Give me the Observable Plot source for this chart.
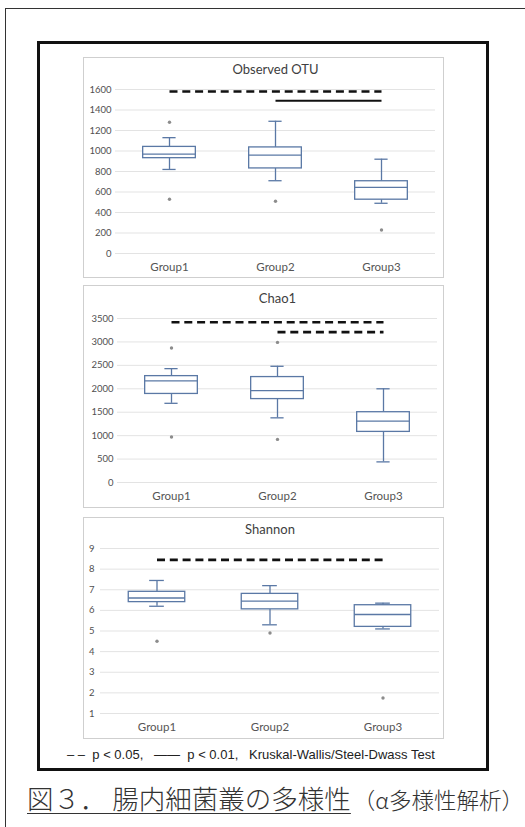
<!DOCTYPE html>
<html>
<head>
<meta charset="utf-8">
<script src="https://cdn.jsdelivr.net/npm/d3@7"></script>
<script src="https://cdn.jsdelivr.net/npm/@observablehq/plot@0.6"></script>
<style>
  html, body { margin: 0; padding: 0; background: #fff; }
  #page { position: relative; width: 525px; height: 827px; overflow: hidden; background: #fff; }
  .abs { position: absolute; }
  #outer { left: 5px; top: 8px; width: 600px; height: 900px; border: 1.5px solid #333; }
  #inner { left: 37px; top: 41px; width: 446px; height: 724px; border: 3px solid #111; }
  .panel { border: 1px solid #cfcfcf; background: #fff; }
  .panel svg { display: block; }
  #legend { left: 67px; top: 747px; font-family: "Liberation Sans", Arial, sans-serif; font-size: 13px; color: #222; white-space: pre; }
  #caption { left: 27px; top: 778px; font-family: "Noto Sans CJK JP", sans-serif; color: #333; white-space: pre; font-weight: 300; }
  #caption .main { font-size: 26.5px; text-decoration: underline; text-decoration-thickness: 1px; text-underline-offset: 4px; }
  #caption .sub { font-size: 22.5px; margin-left: 2px; }
</style>
</head>
<body>
<div id="page">
  <div id="outer" class="abs"></div>
  <div id="inner" class="abs"></div>
  <div id="p1" class="abs panel" style="left:83px; top:57px;"></div>
  <div id="p2" class="abs panel" style="left:83px; top:285px;"></div>
  <div id="p3" class="abs panel" style="left:83px; top:517px;"></div>
  <div id="legend" class="abs">‒ ‒  p &lt; 0.05,   ——  p &lt; 0.01,   Kruskal-Wallis/Steel-Dwass Test</div>
  <div id="caption" class="abs"><span class="main">図３． 腸内細菌叢の多様性</span><span class="sub">（α多様性解析）</span></div>
</div>
<script>
// ---------- data ----------
const groups = ["Group1", "Group2", "Group3"];

// Observed OTU
const otuTicks = [0, 200, 400, 600, 800, 1000, 1200, 1400, 1600];
const otuHigh = [1130, 1290, 920];
const otuQ3 = [1040, 1035, 705];
const otuMedian = [970, 960, 645];
const otuQ1 = [930, 830, 525];
const otuLow = [820, 710, 490];
const otuOutlierGroups = ["Group1", "Group1", "Group2", "Group3"];
const otuOutlierValues = [1280, 530, 510, 230];
const otuSigFrom = ["Group1", "Group2"];
const otuSigTo = ["Group3", "Group3"];
const otuSigY = [1580, 1490];
const otuSigType = ["p<0.05", "p<0.01"];

// Chao1
const chaoTicks = [0, 500, 1000, 1500, 2000, 2500, 3000, 3500];
const chaoHigh = [2430, 2480, 2000];
const chaoQ3 = [2270, 2250, 1500];
const chaoMedian = [2170, 1960, 1310];
const chaoQ1 = [1890, 1780, 1080];
const chaoLow = [1690, 1380, 440];
const chaoOutlierGroups = ["Group1", "Group1", "Group2", "Group2"];
const chaoOutlierValues = [2870, 970, 2990, 920];
const chaoSigFrom = ["Group1", "Group2"];
const chaoSigTo = ["Group3", "Group3"];
const chaoSigY = [3420, 3210];
const chaoSigType = ["p<0.05", "p<0.05"];

// Shannon
const shanTicks = [1, 2, 3, 4, 5, 6, 7, 8, 9];
const shanHigh = [7.45, 7.2, 6.35];
const shanQ3 = [6.9, 6.8, 6.25];
const shanMedian = [6.6, 6.45, 5.8];
const shanQ1 = [6.4, 6.05, 5.2];
const shanLow = [6.2, 5.3, 5.1];
const shanOutlierGroups = ["Group1", "Group2", "Group3"];
const shanOutlierValues = [4.5, 4.9, 1.75];
const shanSigFrom = ["Group1"];
const shanSigTo = ["Group3"];
const shanSigY = [8.45];
const shanSigType = ["p<0.05"];

// ---------- drawing ----------
const boxColor = "#5a78a5";

function boxPanel(cfg) {
  const boxes = groups.map((g, i) => ({g, hi: cfg.high[i], q3: cfg.q3[i], med: cfg.median[i], q1: cfg.q1[i], lo: cfg.low[i]}));
  const outliers = cfg.outG.map((g, i) => ({g, v: cfg.outV[i]}));
  const sigs = cfg.sigFrom.map((f, i) => ({from: f, to: cfg.sigTo[i], y: cfg.sigY[i], type: cfg.sigType[i]}));
  const dashed = sigs.filter(d => d.type === "p<0.05");
  const solid = sigs.filter(d => d.type === "p<0.01");
  const bw = (cfg.width - cfg.ml - cfg.mr) / 3;
  const boxInset = bw * 0.25;
  const capInset = bw * 0.435;
  return Plot.plot({
    width: cfg.width, height: cfg.height,
    marginTop: cfg.mt, marginBottom: cfg.mb, marginLeft: cfg.ml, marginRight: cfg.mr,
    style: {fontFamily: "Lato, 'Open Sans', sans-serif", fontSize: "10px", color: "#595959", background: "white", overflow: "visible"},
    x: {domain: groups, padding: 0},
    y: {domain: cfg.domain},
    marks: [
      Plot.gridY(cfg.ticks, {stroke: "#e3e3e3", strokeOpacity: 1}),
      Plot.axisY(cfg.ticks, {tickSize: 0, tickPadding: cfg.tp, tickFormat: d => String(d), label: null, fontSize: 9.5, fill: "#505050"}),
      Plot.axisX({tickSize: 0, tickPadding: 9, label: null, fontSize: 11.5, fill: "#555555"}),
      Plot.ruleX(boxes, {x: "g", y1: "q3", y2: "hi", stroke: boxColor, strokeWidth: 1.3}),
      Plot.ruleX(boxes, {x: "g", y1: "lo", y2: "q1", stroke: boxColor, strokeWidth: 1.3}),
      Plot.barY(boxes, {x: "g", y1: "q1", y2: "q3", fill: "white", stroke: boxColor, strokeWidth: 1.3, insetLeft: boxInset, insetRight: boxInset}),
      Plot.tickY(boxes, {x: "g", y: "med", stroke: boxColor, strokeWidth: 1.3, insetLeft: boxInset, insetRight: boxInset}),
      Plot.tickY(boxes, {x: "g", y: "hi", stroke: boxColor, strokeWidth: 1.3, insetLeft: capInset, insetRight: capInset}),
      Plot.tickY(boxes, {x: "g", y: "lo", stroke: boxColor, strokeWidth: 1.3, insetLeft: capInset, insetRight: capInset}),
      Plot.dot(outliers, {x: "g", y: "v", r: 1.7, fill: "#8c8c8c", stroke: "none"}),
      Plot.link(dashed, {x1: "from", x2: "to", y1: "y", y2: "y", stroke: "#111", strokeWidth: 2.6, strokeDasharray: "8,4.8"}),
      Plot.link(solid, {x1: "from", x2: "to", y1: "y", y2: "y", stroke: "#111", strokeWidth: 2}),
      Plot.text([cfg.title], {frameAnchor: "top", dy: cfg.titleDy, lineAnchor: "middle", fontSize: 13, fill: "#404040"})
    ]
  });
}

document.getElementById("p1").append(boxPanel({
  title: "Observed OTU", ticks: otuTicks, domain: [0, 1600],
  high: otuHigh, q3: otuQ3, median: otuMedian, q1: otuQ1, low: otuLow,
  outG: otuOutlierGroups, outV: otuOutlierValues,
  sigFrom: otuSigFrom, sigTo: otuSigTo, sigY: otuSigY, sigType: otuSigType,
  width: 359, height: 219, mt: 31, mb: 24, ml: 31, mr: 8, tp: 4, titleDy: -20
}));
document.getElementById("p2").append(boxPanel({
  title: "Chao1", ticks: chaoTicks, domain: [0, 3500],
  high: chaoHigh, q3: chaoQ3, median: chaoMedian, q1: chaoQ1, low: chaoLow,
  outG: chaoOutlierGroups, outV: chaoOutlierValues,
  sigFrom: chaoSigFrom, sigTo: chaoSigTo, sigY: chaoSigY, sigType: chaoSigType,
  width: 359, height: 221, mt: 32, mb: 25, ml: 33, mr: 6, tp: 4, titleDy: -20
}));
document.getElementById("p3").append(boxPanel({
  title: "Shannon", ticks: shanTicks, domain: [1, 9],
  high: shanHigh, q3: shanQ3, median: shanMedian, q1: shanQ1, low: shanLow,
  outG: shanOutlierGroups, outV: shanOutlierValues,
  sigFrom: shanSigFrom, sigTo: shanSigTo, sigY: shanSigY, sigType: shanSigType,
  width: 359, height: 220, mt: 30, mb: 25, ml: 16, mr: 4, tp: 6, titleDy: -19
}));
</script>
</body>
</html>
